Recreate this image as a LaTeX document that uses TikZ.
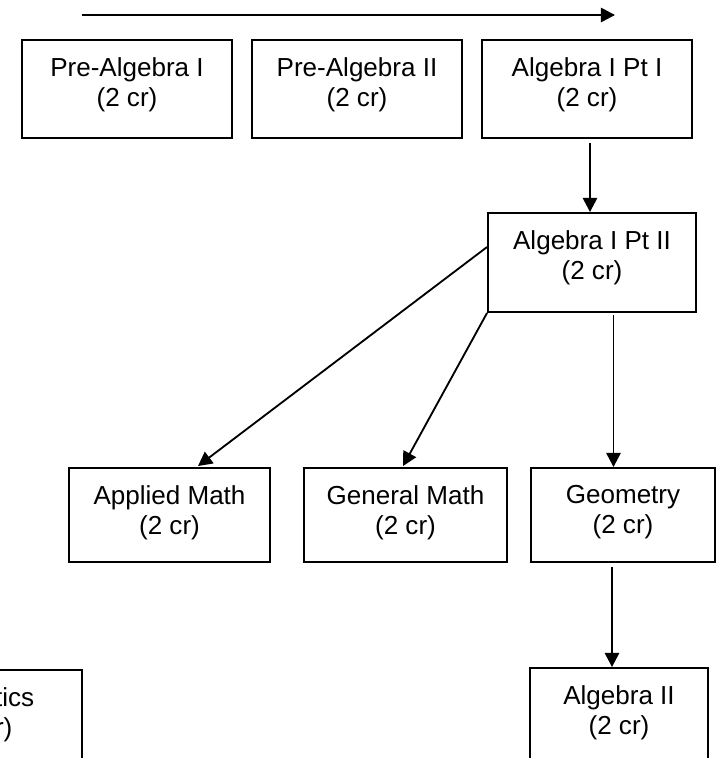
\documentclass[tikz,border=0pt]{standalone}
\usepackage{fontspec}
\setmainfont{Liberation Sans}
\usetikzlibrary{arrows.meta,calc}
\begin{document}
\begin{tikzpicture}[x=0.4608pt,y=-0.4608pt,
  box/.style 2 args={draw, line width=0.9pt, inner sep=0pt,
    minimum width=#1*0.4608pt, minimum height=#2*0.4608pt},
  lbl/.style={anchor=north, align=center, inner sep=0pt,
    font=\fontsize{12}{13.8}\selectfont},
  arr/.style={line width=0.85pt, -{Triangle[length=6.5pt,width=6.6pt]}}
]
\useasboundingbox (0,0) rectangle (719,758);
\clip (0,0) rectangle (719,758);

% top arrow
\coordinate (ts) at (82,15);
\coordinate (te) at (615,15);
\draw[arr] (ts) -- (te);

% boxes
\node[box={210}{98}] (pa1) at (127,89) {};
\node[lbl] (pa1t) at ($(pa1.north)+(0,18)$) {Pre-Algebra I\\(2 cr)};

\node[box={210}{98}] (pa2) at (357,89) {};
\node[lbl] (pa2t) at ($(pa2.north)+(0,18)$) {Pre-Algebra II\\(2 cr)};

\node[box={210}{98}] (a1p1) at (587,89) {};
\node[lbl] (a1p1t) at ($(a1p1.north)+(0,18)$) {Algebra I Pt I\\(2 cr)};

\node[box={208}{99}] (a1p2) at (592,262.5) {};
\node[lbl] (a1p2t) at ($(a1p2.north)+(0,18)$) {Algebra I Pt II\\(2 cr)};

\node[box={201}{94}] (am) at (169.5,515) {};
\node[lbl] (amt) at ($(am.north)+(0,18)$) {Applied Math\\(2 cr)};

\node[box={203}{94}] (gm) at (405.5,515) {};
\node[lbl] (gmt) at ($(gm.north)+(0,18)$) {General Math\\(2 cr)};

\node[box={184}{94}] (geo) at (623,515) {};
\node[lbl] (geot) at ($(geo.north)+(0,18)$) {Geometry\\(2 cr)};

\node[box={178}{95}] (a2) at (619,715.5) {};
\node[lbl] (a2t) at ($(a2.north)+(0,18)$) {Algebra II\\(2 cr)};

\node[box={200}{95}] (stat) at (-18,717.5) {};
\node[lbl] (statt) at ($(stat.north)+(0,18)$) {Statistics\\(2 cr)};

% connectors
\draw[arr] ($(a1p1.south)+(3,4)$) coordinate (c1) -- (c1 |- a1p2.north);
\draw[arr] ($(a1p2.north west)+(0,35)$) -- ($(am.north)+(28.5,-1)$);
\draw[arr] (a1p2.south west) -- ($(gm.north)+(-2.5,-1)$);
\draw[arr] ($(a1p2.south)+(21.5,2)$) coordinate (c2) -- (c2 |- geo.north);
\draw[arr] ($(geo.south)+(-11,4)$) coordinate (c3) -- (c3 |- a2.north);
\end{tikzpicture}
\end{document}
